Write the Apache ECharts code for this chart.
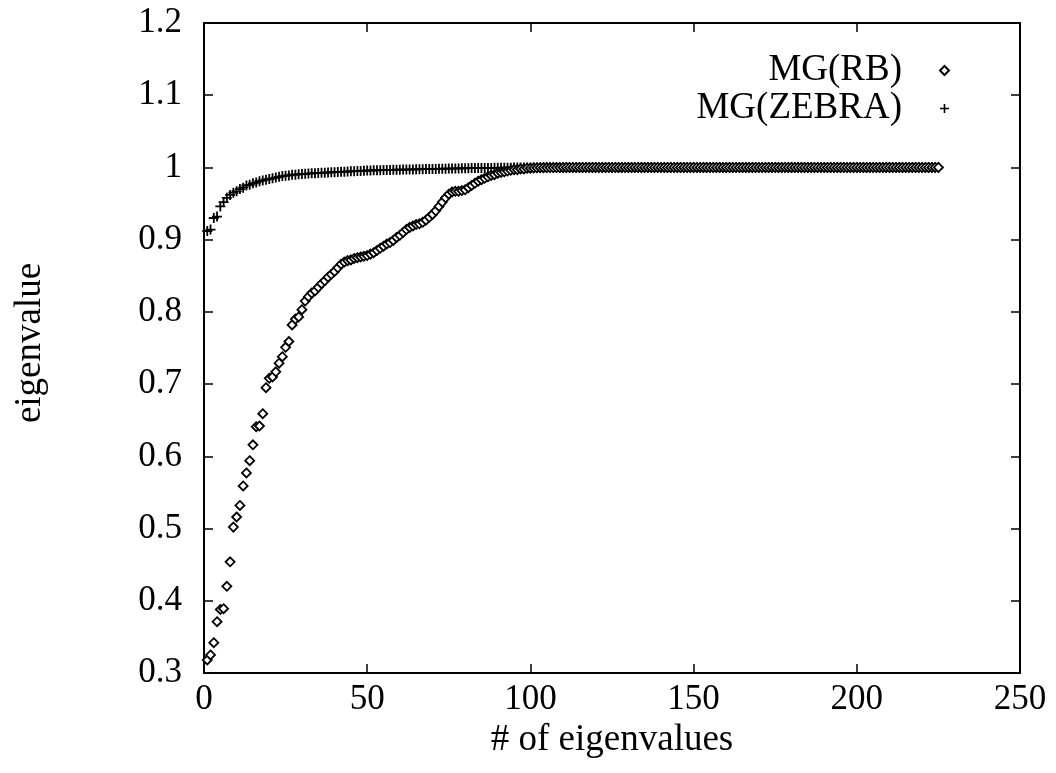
<!DOCTYPE html>
<html>
<head>
<meta charset="utf-8">
<script src="https://cdn.jsdelivr.net/npm/echarts@6/dist/echarts.min.js"></script>
<style>
html,body{margin:0;padding:0;background:#fff;}
#chart{width:1056px;height:773px;}
</style>
</head>
<body>
<div id="chart"></div>
<script>
// eigenvalue index runs 1..N for both series
const rbValues = [
  0.318,0.325,0.342,0.371,0.388,0.389,0.420,0.454,0.502,0.516,
  0.532,0.559,0.577,0.594,0.616,0.641,0.642,0.659,0.695,0.708,
  0.710,0.717,0.729,0.738,0.751,0.759,0.782,0.790,0.793,0.803,
  0.815,0.821,0.826,0.829,0.834,0.839,0.843,0.848,0.852,0.856,
  0.861,0.866,0.869,0.871,0.872,0.874,0.875,0.876,0.877,0.878,
  0.880,0.882,0.885,0.888,0.891,0.894,0.896,0.899,0.903,0.906,
  0.910,0.914,0.917,0.919,0.921,0.922,0.924,0.927,0.931,0.935,
  0.940,0.946,0.952,0.958,0.963,0.966,0.967,0.967,0.968,0.969,
  0.972,0.975,0.978,0.981,0.983,0.985,0.987,0.989,0.990,0.992,
  0.993,0.994,0.995,0.996,0.997,0.997,0.998,0.998,0.999,0.999,
  0.9993,0.9995,0.9996,0.9997,0.9998,0.9998,0.9999,0.9999,0.9999,1,
  1,1,1,1,1,1,1,1,1,1,
  1,1,1,1,1,1,1,1,1,1,
  1,1,1,1,1,1,1,1,1,1,
  1,1,1,1,1,1,1,1,1,1,
  1,1,1,1,1,1,1,1,1,1,
  1,1,1,1,1,1,1,1,1,1,
  1,1,1,1,1,1,1,1,1,1,
  1,1,1,1,1,1,1,1,1,1,
  1,1,1,1,1,1,1,1,1,1,
  1,1,1,1,1,1,1,1,1,1,
  1,1,1,1,1,1,1,1,1,1,
  1,1,1,1,1
];
const zebraValues = [
  0.912,0.914,0.930,0.932,0.946,0.952,0.958,0.962,0.965,0.967,
  0.970,0.972,0.975,0.976,0.978,0.979,0.981,0.982,0.983,0.984,
  0.985,0.986,0.987,0.988,0.9885,0.989,0.990,0.990,0.9905,0.991,
  0.9912,0.9915,0.9918,0.992,0.9923,0.9925,0.9928,0.993,0.9932,0.9935,
  0.9938,0.994,0.9942,0.9944,0.9946,0.9948,0.995,0.9952,0.9954,0.9956,
  0.9958,0.996,0.9961,0.9962,0.9964,0.9965,0.9966,0.9967,0.9968,0.9969,
  0.997,0.9971,0.9972,0.9973,0.9974,0.9975,0.9976,0.9977,0.9978,0.9979,
  0.998,0.9981,0.9982,0.9983,0.9984,0.9985,0.9986,0.9987,0.9988,0.9989,
  0.999,0.9991,0.9991,0.9992,0.9993,0.9993,0.9994,0.9994,0.9995,0.9995,
  0.9996,0.9996,0.9997,0.9997,0.9998,0.9998,0.9999,0.9999,0.9999,0.9999,
  1,1,1,1,1,1,1,1,1,1,
  1,1,1,1,1,1,1,1,1,1,
  1,1,1,1,1,1,1,1,1,1,
  1,1,1,1,1,1,1,1,1,1,
  1,1,1,1,1,1,1,1,1,1,
  1,1,1,1,1,1,1,1,1,1,
  1,1,1,1,1,1,1,1,1,1,
  1,1,1,1,1,1,1,1,1,1,
  1,1,1,1,1,1,1,1,1,1,
  1,1,1,1,1,1,1,1,1,1,
  1,1,1,1,1,1,1,1,1,1,
  1,1,1,1,1,1,1,1,1,1,
  1,1,1,1,1
];
const seriesNames = ['MG(RB)', 'MG(ZEBRA)'];
const xTitle = '# of eigenvalues';
const yTitle = 'eigenvalue';
const xMin = 0, xMax = 250, xStep = 50;
const yMin = 0.3, yMax = 1.2, yStep = 0.1;

const toPairs = arr => arr.map((v, i) => [i + 1, v]);
const FONT = 'Liberation Serif';
const PLUS = 'path://M0,4.1H10V5.9H0Z M4.1,0H5.9V10H4.1Z';

const chart = echarts.init(document.getElementById('chart'), null, {renderer: 'canvas'});
const tickStyle = {show: true, inside: true, length: 9, lineStyle: {color: '#000', width: 1.5}};
const lineStyle = {show: true, onZero: false, lineStyle: {color: '#000', width: 2}};
const labelBase = {color: '#000', fontFamily: FONT, fontSize: 35};

chart.setOption({
  animation: false,
  backgroundColor: '#fff',
  grid: {left: 204, right: 36, top: 23, bottom: 100, containLabel: false},
  legend: {
    orient: 'vertical',
    align: 'right',
    right: 101,
    top: 47,
    itemWidth: 9,
    itemHeight: 9,
    itemGap: 1,
    selectedMode: false,
    textStyle: {color: '#000', fontFamily: FONT, fontSize: 37, lineHeight: 30, padding: [0, 33, 0, 0]},
    data: seriesNames
  },
  xAxis: [
    {
      type: 'value', position: 'bottom', min: xMin, max: xMax, interval: xStep,
      axisLine: lineStyle, axisTick: tickStyle, splitLine: {show: false},
      axisLabel: Object.assign({margin: 9}, labelBase),
      name: xTitle, nameLocation: 'middle', nameGap: 39,
      nameTextStyle: {color: '#000', fontFamily: FONT, fontSize: 37}
    },
    {
      type: 'value', position: 'top', min: xMin, max: xMax, interval: xStep,
      axisLine: lineStyle, axisTick: tickStyle, splitLine: {show: false},
      axisLabel: {show: false}
    }
  ],
  yAxis: [
    {
      type: 'value', position: 'left', min: yMin, max: yMax, interval: yStep,
      axisLine: lineStyle, axisTick: tickStyle, splitLine: {show: false},
      axisLabel: Object.assign({margin: 22, formatter: v => String(+v.toFixed(1))}, labelBase),
      name: yTitle, nameLocation: 'middle', nameGap: 155, nameRotate: 90,
      nameTextStyle: {color: '#000', fontFamily: FONT, fontSize: 37, padding: [0, 0, 0, 10]}
    },
    {
      type: 'value', position: 'right', min: yMin, max: yMax, interval: yStep,
      axisLine: lineStyle, axisTick: tickStyle, splitLine: {show: false},
      axisLabel: {show: false}
    }
  ],
  series: [
    {
      name: seriesNames[0], type: 'scatter', xAxisIndex: 0, yAxisIndex: 0,
      symbol: 'diamond', symbolSize: 9, z: 3,
      itemStyle: {color: '#fff', borderColor: '#000', borderWidth: 1.8, opacity: 1},
      data: toPairs(rbValues)
    },
    {
      name: seriesNames[1], type: 'scatter', xAxisIndex: 0, yAxisIndex: 0,
      symbol: PLUS, symbolSize: 10, z: 2,
      itemStyle: {color: '#000', borderWidth: 0, opacity: 1},
      data: toPairs(zebraValues)
    }
  ]
});
</script>
</body>
</html>
